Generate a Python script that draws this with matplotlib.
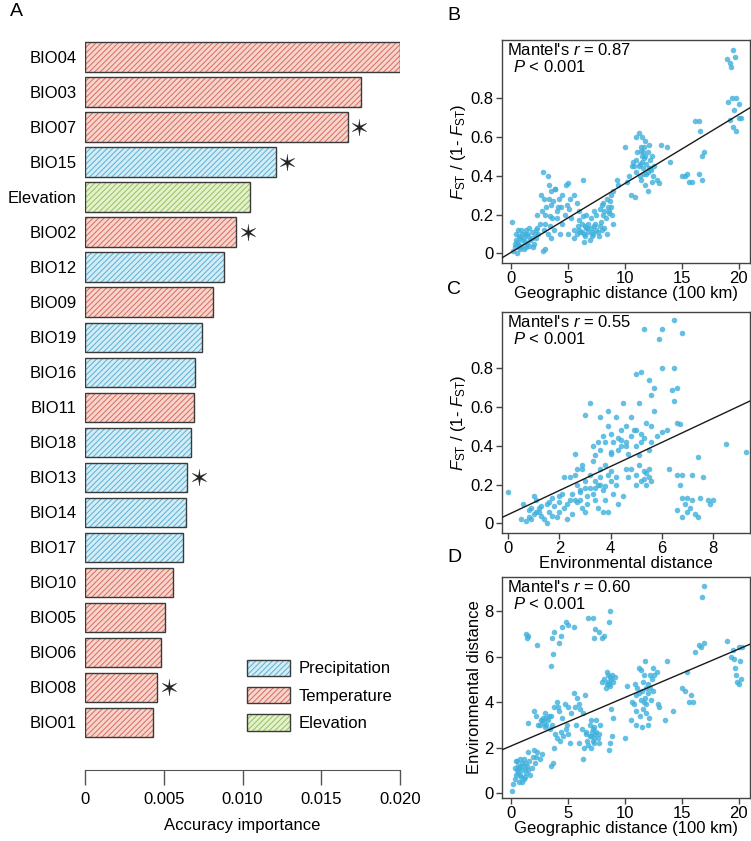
import matplotlib
matplotlib.use("Agg")
import matplotlib.pyplot as plt
from matplotlib.patches import Patch
import numpy as np

plt.rcParams['font.family'] = ['Liberation Sans', 'DejaVu Sans']
plt.rcParams['mathtext.fontset'] = 'custom'
plt.rcParams['mathtext.rm'] = 'Liberation Sans'
plt.rcParams['mathtext.it'] = 'Liberation Sans:italic'
plt.rcParams['hatch.linewidth'] = 0.7

# ---------------- Panel A data ----------------
variables = ["BIO04", "BIO03", "BIO07", "BIO15", "Elevation", "BIO02", "BIO12", "BIO09",
             "BIO19", "BIO16", "BIO11", "BIO18", "BIO13", "BIO14", "BIO17", "BIO10",
             "BIO05", "BIO06", "BIO08", "BIO01"]
importance = [0.0200, 0.0175, 0.0167, 0.0121, 0.0105, 0.0096, 0.0088, 0.0081,
              0.0074, 0.0070, 0.0069, 0.0067, 0.0065, 0.0064, 0.0062, 0.0056,
              0.0051, 0.0048, 0.0046, 0.0043]
groups = ["Temperature", "Temperature", "Temperature", "Precipitation", "Elevation",
          "Temperature", "Precipitation", "Temperature", "Precipitation", "Precipitation",
          "Temperature", "Precipitation", "Precipitation", "Precipitation", "Precipitation",
          "Temperature", "Temperature", "Temperature", "Temperature", "Temperature"]
significant = ["BIO07", "BIO15", "BIO02", "BIO13", "BIO08"]
legend_order = ["Precipitation", "Temperature", "Elevation"]

# ---------------- Panel B data: geographic distance vs FST/(1-FST) ----------------
geo_B = [0.2, 0.3, 0.5, 0.6, 0.8, 1.0, 1.2, 1.3, 1.5, 1.7, 0.9, 1.1, 0.4, 1.8, 2.0, 2.2, 0.1,
         0.7, 1.4, 1.6, 0.3, 1.9, 2.4, 0.6, 1.0, 1.2, 0.8,
         2.8, 3.0,
         2.8, 3.2, 3.5, 3.3, 2.9, 2.7, 3.0, 3.5, 4.0, 4.2, 4.5, 4.8, 5.0, 5.2, 5.5, 5.8, 6.0,
         6.3, 4.5, 3.8, 3.5, 3.2, 2.5, 2.2, 4.0, 4.7, 5.3, 5.5, 4.3, 3.0, 3.7, 4.1, 2.6, 3.4,
         4.9, 5.1, 3.9, 2.3,
         5.8, 6.0, 6.2, 6.5, 6.8, 7.0, 7.2, 7.5, 7.8, 8.0, 8.2, 6.3, 6.6, 7.0, 7.3, 6.0, 5.5,
         5.0, 7.7, 6.9, 6.4, 6.1, 6.7, 7.4, 7.1, 6.5, 8.4, 5.9,
         7.5, 8.0, 8.2, 8.5, 8.7, 8.9, 8.3, 7.8, 8.8, 9.0, 9.3, 9.4, 9.0, 8.6, 8.1,
         10.0, 10.5, 10.2, 10.8, 11.0, 11.2, 11.5, 11.7, 11.8, 12.0, 12.2, 11.0, 11.3, 11.6,
         11.9, 12.3, 12.5, 11.4, 11.8, 12.0, 12.8, 13.0, 11.0, 11.5, 12.6, 13.2, 13.7, 14.0,
         10.9, 10.4, 11.6, 12.1, 12.4, 11.2, 11.9, 12.2, 10.7, 11.4, 12.0, 11.7,
         15.0, 15.3, 15.6, 15.9, 16.2, 16.5, 16.6, 16.8, 17.0, 16.5, 16.8, 15.5,
         19.0, 19.3, 19.5, 19.7, 19.2, 19.4, 19.8, 20.0, 19.6, 19.2, 19.5, 19.8, 20.2, 20.0, 19.1,
         0.5, 0.7, 1.1, 1.4, 1.6, 2.1, 0.9, 1.3, 2.3, 0.4, 1.8,
         3.1, 3.6, 3.3, 4.4, 3.9, 2.9, 3.4,
         6.2, 6.6, 7.1, 7.6, 6.8, 7.3, 6.4, 7.9,
         8.4, 8.6, 8.1, 8.8,
         11.1, 11.4, 11.8, 12.1, 11.3, 11.7, 12.4, 11.5, 10.6]
fst_B = [0.01, 0.03, 0.00, 0.05, 0.08, 0.10, 0.06, 0.12, 0.09, 0.07, 0.04, 0.02, 0.07, 0.11,
         0.05, 0.08, 0.16, 0.09, 0.05, 0.13, 0.05, 0.03, 0.10, 0.12, 0.07, 0.10, 0.02,
         0.01, 0.02,
         0.42, 0.40, 0.32, 0.35, 0.28, 0.22, 0.20, 0.25, 0.18, 0.28, 0.30, 0.35, 0.36, 0.28,
         0.30, 0.26, 0.22, 0.38, 0.15, 0.12, 0.08, 0.10, 0.15, 0.12, 0.22, 0.20, 0.18, 0.12,
         0.10, 0.15, 0.27, 0.24, 0.30, 0.19, 0.25, 0.23, 0.33, 0.20,
         0.10, 0.12, 0.15, 0.09, 0.11, 0.13, 0.10, 0.12, 0.14, 0.12, 0.13, 0.19, 0.20, 0.18,
         0.22, 0.17, 0.08, 0.10, 0.09, 0.07, 0.06, 0.11, 0.13, 0.15, 0.09, 0.14, 0.10, 0.14,
         0.20, 0.25, 0.22, 0.24, 0.27, 0.20, 0.18, 0.23, 0.30, 0.32, 0.38, 0.35, 0.15, 0.22,
         0.26,
         0.55, 0.30, 0.37, 0.45, 0.60, 0.62, 0.50, 0.55, 0.58, 0.52, 0.48, 0.42, 0.40, 0.44,
         0.46, 0.43, 0.40, 0.38, 0.35, 0.32, 0.38, 0.36, 0.48, 0.47, 0.45, 0.56, 0.55, 0.47,
         0.29, 0.40, 0.52, 0.56, 0.50, 0.45, 0.41, 0.44, 0.47, 0.53, 0.42, 0.49,
         0.40, 0.40, 0.37, 0.37, 0.68, 0.68, 0.63, 0.50, 0.52, 0.41, 0.38, 0.41,
         1.00, 0.96, 1.05, 1.01, 0.98, 0.80, 0.80, 0.77, 0.74, 0.69, 0.65, 0.63, 0.70, 0.70, 0.78,
         0.06, 0.03, 0.08, 0.10, 0.04, 0.10, 0.12, 0.03, 0.13, 0.10, 0.08,
         0.24, 0.18, 0.28, 0.24, 0.33, 0.12, 0.14,
         0.11, 0.13, 0.11, 0.11, 0.15, 0.14, 0.10, 0.16,
         0.28, 0.21, 0.20, 0.24,
         0.52, 0.55, 0.50, 0.44, 0.46, 0.41, 0.37, 0.60, 0.45]
fit_B = [0.0355, 0.005]  # slope, intercept

# ---------------- Panel C data: environmental distance vs FST/(1-FST) ----------------
env_C = [0.0, 0.7, 0.5, 1.0, 1.2, 1.5, 0.8, 1.1, 1.3, 1.6, 1.8, 2.0, 1.4, 0.9, 1.7, 2.2, 2.4,
         2.5, 1.9, 0.6, 1.0, 2.1, 1.5, 2.3, 1.2, 1.6, 0.8, 2.0,
         2.5, 2.7, 2.8, 3.0, 3.2, 3.4, 3.6, 2.6, 2.9, 3.1, 3.3, 3.5, 3.7, 3.9, 4.0, 3.8, 4.1,
         3.5, 3.7, 4.3, 2.4, 2.2, 2.6, 2.9, 3.3, 3.0, 2.8, 3.1, 3.4, 3.6, 2.7, 3.8, 4.2,
         3.5, 3.7, 3.9, 4.0, 4.2, 4.4, 4.6, 4.8, 5.0, 5.2, 5.4, 5.6, 5.8, 4.3, 4.7, 5.1, 3.6,
         3.2, 3.0, 3.4, 3.9, 4.5, 4.8, 5.5, 6.0, 6.2, 5.7, 4.1, 4.9, 5.3, 4.6, 4.0, 4.4,
         4.8, 5.0, 5.2, 5.3, 5.5, 5.4, 5.1, 5.6, 4.7, 5.5, 5.3,
         5.0, 5.2, 5.5, 5.7, 5.6, 6.0, 6.5, 6.4, 6.6, 6.5, 5.3, 6.0, 5.9, 6.5, 6.8, 6.6, 6.7,
         6.3,
         6.6, 6.8, 6.7, 7.2, 7.6, 7.4, 6.8, 7.0, 7.2, 6.9, 7.1, 6.6, 6.8, 7.3, 7.4, 7.5, 7.8,
         8.0, 7.9, 7.0,
         8.5, 9.3,
         1.1, 1.3, 0.9, 1.7, 2.0, 2.3, 2.6, 2.8, 3.0, 3.2, 3.4, 2.9, 3.6, 3.8, 4.0, 4.2, 3.3,
         3.6, 4.0, 4.3, 4.6, 5.0, 5.2, 4.4, 3.8, 4.6, 5.0, 5.4, 2.7, 4.5, 3.9, 5.1, 5.6]
fst_C = [0.16, 0.01, 0.02, 0.05, 0.08, 0.10, 0.03, 0.12, 0.04, 0.06, 0.09, 0.11, 0.02, 0.08,
         0.13, 0.08, 0.12, 0.05, 0.03, 0.10, 0.14, 0.15, 0.00, 0.02, 0.06, 0.11, 0.07, 0.06,
         0.15, 0.20, 0.12, 0.18, 0.25, 0.22, 0.28, 0.25, 0.28, 0.10, 0.15, 0.20, 0.17, 0.25,
         0.22, 0.12, 0.15, 0.08, 0.06, 0.10, 0.24, 0.24, 0.36, 0.30, 0.32, 0.06, 0.16, 0.14,
         0.18, 0.20, 0.11, 0.19, 0.24,
         0.42, 0.45, 0.50, 0.46, 0.55, 0.48, 0.42, 0.45, 0.40, 0.46, 0.52, 0.50, 0.45, 0.38,
         0.36, 0.35, 0.55, 0.62, 0.56, 0.35, 0.58, 0.62, 0.55, 0.38, 0.47, 0.48, 0.58, 0.42,
         0.48, 0.44, 0.40, 0.37, 0.43,
         0.28, 0.25, 0.22, 0.27, 0.24, 0.20, 0.30, 0.22, 0.24, 0.28, 0.23,
         0.77, 0.78, 0.74, 0.70, 0.66, 0.80, 0.80, 0.69, 0.70, 0.63, 1.00, 1.00, 0.95, 1.05,
         0.98, 0.52, 0.51, 0.28,
         0.25, 0.25, 0.20, 0.25, 0.24, 0.34, 0.13, 0.13, 0.12, 0.10, 0.08, 0.07, 0.03, 0.05,
         0.03, 0.13, 0.12, 0.12, 0.10, 0.06,
         0.41, 0.37,
         0.06, 0.09, 0.02, 0.04, 0.14, 0.10, 0.12, 0.17, 0.22, 0.18, 0.12, 0.08, 0.24, 0.30,
         0.27, 0.20, 0.40, 0.38, 0.36, 0.44, 0.50, 0.48, 0.42, 0.40, 0.42, 0.28, 0.20, 0.26,
         0.28, 0.14, 0.06, 0.62, 0.42]
fit_C = [0.062, 0.045]

# ---------------- Panel D data: geographic distance vs environmental distance ----------------
geo_D = [0.1, 0.2, 0.3, 0.5, 0.6, 0.4, 0.8, 1.0, 1.2, 0.7, 0.9, 1.1, 1.4, 1.6, 1.8, 1.3, 0.3,
         1.5, 2.0, 2.3, 2.5, 2.7, 1.0, 1.7, 2.1, 0.6, 1.9, 0.5, 1.2, 0.9, 2.2,
         1.3, 1.4, 1.5, 2.3,
         1.5, 2.0, 2.2, 2.5, 2.8, 3.0, 3.2, 3.4, 3.0, 3.6, 3.8, 4.0, 4.2, 2.7, 3.3, 4.5, 4.8,
         5.0, 4.0, 3.8, 3.7, 3.5, 4.3, 4.6, 5.2, 3.9, 2.9, 3.1, 4.4, 4.9,
         5.5, 5.8, 6.0, 6.3, 6.5, 6.2, 6.0, 6.4, 6.3, 6.7, 7.0, 7.2, 7.4, 7.6, 7.3, 7.0, 7.8,
         7.5, 7.1, 6.8, 6.9, 5.7, 5.3, 5.0, 7.7, 6.6, 7.3, 6.1,
         8.2, 8.4, 8.6, 8.8, 9.0, 8.5, 8.7, 9.1, 8.3, 8.9, 8.0, 8.6, 8.7, 8.9, 9.0, 8.8, 10.0,
         3.5, 3.7, 3.6, 3.8, 4.2, 4.4, 4.5, 4.8, 5.0, 5.5, 6.8, 7.2, 7.4, 7.7, 7.3, 8.0, 8.2,
         8.6, 8.7,
         10.2, 10.5, 10.8, 11.0, 11.2, 11.4, 11.5, 11.7, 11.9, 12.0, 12.2, 12.4, 12.6, 12.8,
         11.0, 11.3, 11.6, 11.8, 12.1, 10.6, 12.9, 13.0, 13.5, 14.2, 13.7, 12.0, 11.5, 11.8,
         12.5, 10.9, 11.2, 11.9, 12.3,
         15.0, 15.3, 15.6, 16.0, 15.8, 15.5, 16.2, 16.5, 16.7, 17.0, 16.8, 17.0,
         19.0, 19.3, 19.5, 19.7, 19.8, 20.0, 20.1, 20.3, 19.9, 20.0, 19.6, 20.2,
         0.4, 0.7, 1.0, 1.2, 0.8, 1.5, 1.1, 2.6, 3.1, 3.5, 2.4, 4.1, 5.6, 4.7, 6.9, 7.2, 7.5,
         7.3, 6.6, 7.7, 7.0, 8.5, 8.7, 8.4, 11.1, 11.6, 12.0, 11.4, 12.2, 11.7, 12.5, 11.0,
         11.9]
env_D = [0.1, 0.4, 0.6, 1.0, 1.2, 1.4, 0.8, 1.0, 1.3, 0.5, 0.7, 1.5, 1.2, 1.4, 1.1, 0.9, 1.1,
         1.8, 1.9, 1.8, 1.5, 1.7, 0.5, 0.8, 1.3, 0.9, 1.6, 1.4, 1.1, 1.2, 1.6,
         7.0, 6.8, 6.9, 6.5,
         3.1, 3.6, 3.4, 3.0, 3.3, 3.5, 3.2, 2.8, 2.9, 3.0, 3.8, 4.0, 3.6, 3.2, 3.4, 3.3, 2.8,
         2.6, 2.4, 2.0, 1.3, 1.2, 2.3, 2.5, 2.2, 2.6, 3.1, 3.3, 2.7, 3.0,
         4.4, 4.2, 3.9, 3.5, 4.3, 2.8, 2.2, 2.0, 1.5, 2.3, 2.5, 2.8, 2.6, 2.4, 2.2, 2.0, 3.0,
         3.2, 2.7, 2.1, 3.0, 3.0, 3.5, 3.8, 2.2, 2.7, 2.4, 3.7,
         5.0, 5.3, 4.8, 5.0, 4.9, 5.2, 4.7, 5.1, 4.6, 5.2, 4.9, 1.9, 2.2, 2.5, 3.3, 3.7, 2.4,
         5.6, 6.1, 6.8, 7.1, 6.6, 6.9, 7.3, 7.5, 7.4, 7.3, 7.7, 7.7, 7.2, 7.1, 6.8, 6.8, 6.9,
         7.5, 8.0,
         4.7, 3.2, 3.9, 4.3, 5.5, 5.4, 4.5, 4.0, 3.5, 4.8, 5.2, 5.0, 5.2, 5.3, 3.0, 3.4, 3.7,
         4.2, 3.3, 4.0, 3.9, 3.8, 3.2, 3.6, 5.8, 3.0, 2.9, 5.8, 4.5, 4.8, 4.4, 4.6, 4.1,
         4.6, 4.5, 4.0, 4.0, 4.3, 5.3, 6.2, 6.5, 6.4, 6.6, 8.6, 9.1,
         6.7, 6.0, 6.3, 5.5, 5.2, 6.4, 5.8, 6.4, 4.9, 4.8, 5.9, 5.0,
         0.8, 1.1, 1.3, 0.7, 1.5, 1.0, 0.6, 3.2, 3.0, 3.4, 3.0, 3.8, 3.8, 3.9, 2.5, 2.3, 2.7,
         2.9, 2.6, 2.6, 3.2, 4.9, 5.1, 4.8, 4.6, 4.9, 4.4, 4.1, 4.6, 5.2, 5.5, 3.6, 3.9]
fit_D = [0.213, 2.07]

# ---------------- Styling ----------------
fill_colors = {"Temperature": "#F7D5CD", "Precipitation": "#D3EDF6", "Elevation": "#E4F1CB"}
hatch_colors = {"Temperature": "#D86A5E", "Precipitation": "#5AAFD3", "Elevation": "#93C060"}
edge = "#3a3a3a"
dot = "#3FB0DC"
W, H = 751, 841
FS = 12

# thin six-armed star marker
ang = np.deg2rad(np.arange(12) * 30 + 90)
rad = np.where(np.arange(12) % 2 == 0, 1.0, 0.22)
star = np.column_stack([rad * np.cos(ang), rad * np.sin(ang)])

fig = plt.figure(figsize=(W / 100, H / 100), dpi=100)


def box(l, t, r, b):
    return [l / W, 1 - b / H, (r - l) / W, (b - t) / H]


# ---------------- Panel A ----------------
axA = fig.add_axes(box(85, 40, 400, 770))
ypos = np.arange(len(variables))
for i, (v, g) in enumerate(zip(importance, groups)):
    axA.barh(i, v, height=0.83, color=fill_colors[g], edgecolor=hatch_colors[g],
             hatch="//////", linewidth=0)
    axA.barh(i, v, height=0.83, fill=False, edgecolor=edge, linewidth=1.0)
    if variables[i] in significant:
        axA.plot(v + 0.00072, i, marker=star, markersize=12, color="#222222",
                 markeredgewidth=0.3, linestyle="none")
axA.set_ylim(20.37, -0.486)
axA.set_xlim(0, 0.020)
axA.set_yticks(ypos)
axA.set_yticklabels(variables, fontsize=FS)
axA.tick_params(axis="y", length=0, pad=6)
axA.set_xticks([0, 0.005, 0.010, 0.015, 0.020])
axA.set_xticklabels(["0", "0.005", "0.010", "0.015", "0.020"], fontsize=FS)
axA.tick_params(axis="x", length=11, width=1, color="#555555", pad=5)
for s in ["left", "right", "top"]:
    axA.spines[s].set_visible(False)
axA.spines["bottom"].set_color("#555555")
axA.set_xlabel("Accuracy importance", fontsize=FS, labelpad=8)
axA.set_facecolor("none")

handles = []
for g in legend_order:
    handles.append((Patch(facecolor=fill_colors[g], edgecolor=hatch_colors[g], hatch="//////",
                          linewidth=0),
                    Patch(fill=False, edgecolor=edge, linewidth=1.0)))
axA.legend(handles, legend_order, loc="lower left", bbox_to_anchor=(232 / W, 1 - 746 / H),
           bbox_transform=fig.transFigure, frameon=False, fontsize=FS, handlelength=2.6,
           handleheight=1.15, labelspacing=0.62, handletextpad=0.5)

fig.text(10 / W, 1 - 12 / H, "A", fontsize=14, va="center", ha="left")


# ---------------- Scatter panels ----------------
def scatter_panel(rect, x, y, fit, xlim, ylim, xticks, yticks, yticklabels, xlabel, ylabel,
                  rtext, letter, letter_y):
    ax = fig.add_axes(rect)
    ax.scatter(x, y, s=16, color=dot, alpha=0.8, linewidths=0, zorder=2)
    xs = np.array(xlim)
    ax.plot(xs, fit[0] * xs + fit[1], color="#1a1a1a", lw=1.0, zorder=3)
    ax.set_xlim(*xlim)
    ax.set_ylim(*ylim)
    ax.set_xticks(xticks)
    ax.set_xticklabels([str(t) for t in xticks], fontsize=FS)
    ax.set_yticks(yticks)
    ax.set_yticklabels(yticklabels, fontsize=FS)
    ax.tick_params(length=4, width=1, color="#444444", pad=2)
    for s in ax.spines.values():
        s.set_color("#444444")
        s.set_linewidth(1.0)
    ax.set_xlabel(xlabel, fontsize=FS, labelpad=0)
    ax.set_ylabel(ylabel, fontsize=FS, labelpad=2)
    ax.text(0.02, 0.99, "Mantel's $r$ = " + rtext, transform=ax.transAxes, fontsize=FS,
            va="top", ha="left")
    ax.text(0.045, 0.915, "$P$ < 0.001", transform=ax.transAxes, fontsize=FS,
            va="top", ha="left")
    fig.text(447 / W, 1 - letter_y / H, letter, fontsize=14, va="center", ha="left")
    return ax


fst_label = r"$F_{\mathrm{ST}}$ / (1- $F_{\mathrm{ST}}$)"
scatter_panel(box(502, 40, 750, 263), geo_B, fst_B, fit_B, (-0.8, 21.0), (-0.05, 1.10),
              [0, 5, 10, 15, 20], [0, 0.2, 0.4, 0.6, 0.8], ["0", "0.2", "0.4", "0.6", "0.8"],
              "Geographic distance (100 km)", fst_label, "0.87", "B", 15)
scatter_panel(box(502, 312, 750, 533), env_C, fst_C, fit_C, (-0.24, 9.45), (-0.05, 1.09),
              [0, 2, 4, 6, 8], [0, 0.2, 0.4, 0.6, 0.8], ["0", "0.2", "0.4", "0.6", "0.8"],
              "Environmental distance", fst_label, "0.55", "C", 290)
scatter_panel(box(502, 577, 750, 798), geo_D, env_D, fit_D, (-0.8, 21.0), (-0.22, 9.5),
              [0, 5, 10, 15, 20], [0, 2, 4, 6, 8], ["0", "2", "4", "6", "8"],
              "Geographic distance (100 km)", "Environmental distance", "0.60", "D", 557)

fig.savefig("out.png", dpi=100)
